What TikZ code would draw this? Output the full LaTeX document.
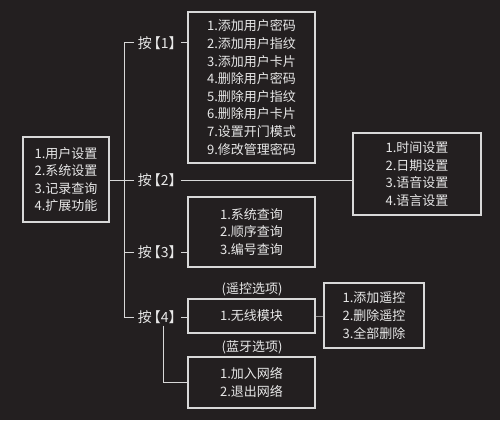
\documentclass[tikz,border=0pt]{standalone}
\usepackage{fontspec}
\setmainfont{Noto Sans CJK SC}
\definecolor{bg}{HTML}{231F20}
\definecolor{ln}{HTML}{D8D8D8}
\definecolor{tx}{HTML}{E8E8E8}
\newcommand{\anjian}[1]{按\kern-0.36em【#1】\kern-0.4em}
\begin{document}
\begin{tikzpicture}[x=1pt,y=-1pt,
  box/.style={draw=ln,line width=1.2pt,text=tx,align=left,inner sep=0pt,
    font=\fontsize{13}{17.6}\selectfont},
  key/.style={text=tx,inner ysep=0pt,inner xsep=3.5pt,font=\fontsize{14}{16}\selectfont},
  note/.style={text=tx,inner sep=0pt,font=\fontsize{13}{16}\selectfont},
  conn/.style={draw=ln,line width=1pt}]
\fill[bg] (0,0) rectangle (500,420);
\useasboundingbox (0,0) rectangle (500,420);

\node[box,minimum width=86pt,minimum height=85pt] (m) at (66,179.5)
  {1.用户设置\\2.系统设置\\3.记录查询\\4.扩展功能};

\node[key] (k1) at (157.5,43) {\anjian{1}};
\node[key] (k2) at (157.5,180) {\anjian{2}};
\node[key] (k3) at (157.5,252) {\anjian{3}};
\node[key] (k4) at (157.5,317) {\anjian{4}};

\node[box,minimum width=127pt,minimum height=151pt] (b1) at (251.5,87.5)
  {1.添加用户密码\\2.添加用户指纹\\3.添加用户卡片\\4.删除用户密码\\5.删除用户指纹\\6.删除用户卡片\\7.设置开门模式\\9.修改管理密码};
\node[box,minimum width=128pt,minimum height=82pt] (b2) at (417,174)
  {1.时间设置\\2.日期设置\\3.语音设置\\4.语言设置};
\node[box,minimum width=127pt,minimum height=70pt] (b3) at (251.5,232)
  {1.系统查询\\2.顺序查询\\3.编号查询};
\node[note] (n4) at (252,289) {(遥控选项)};
\node[box,minimum width=127pt,minimum height=34pt] (b4) at (251.5,316) {1.无线模块};
\node[box,minimum width=100pt,minimum height=65pt] (b5) at (374,315.5)
  {1.添加遥控\\2.删除遥控\\3.全部删除};
\node[note] (n6) at (252,347) {(蓝牙选项)};
\node[box,minimum width=127pt,minimum height=51pt] (b6) at (251.5,382.5)
  {1.加入网络\\2.退出网络};

\draw[conn] (k1.west) -- ++(-9.5,0) |- (k4.west);
\draw[conn] (k3.west) -- ++(-9.5,0);
\draw[conn] (m.east |- k2.west) -- (k2.west);
\draw[conn] (k1.east) -- (k1.east -| b1.west);
\draw[conn] (k2.east) -- (k2.east -| b2.west);
\draw[conn] (k3.east) -- (k3.east -| b3.west);
\draw[conn] (k4.east) -- (k4.east -| b4.west);
\draw[conn] ([xshift=6pt]k4.south) ++(0,2) |- (b6.west);
\draw[draw=ln!60!bg,line width=0.6pt] (b4.east) -- (b4.east -| b5.west);
\end{tikzpicture}
\end{document}
